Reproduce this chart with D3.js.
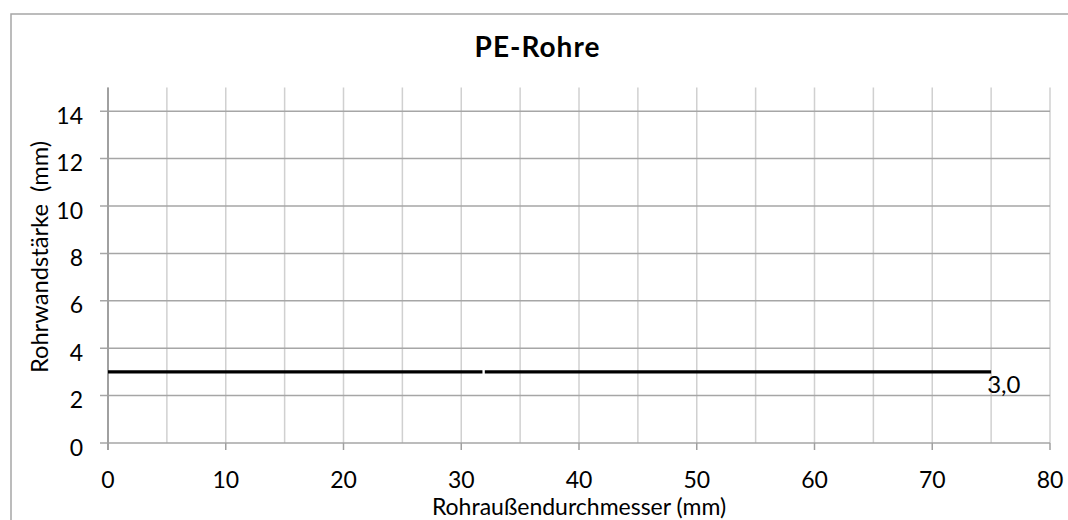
<!DOCTYPE html>
<html>
<head>
<meta charset="utf-8">
<script src="https://cdn.jsdelivr.net/npm/d3@7"></script>
<style>
  body { margin: 0; background: #fff; }
  svg { display: block; font-family: Lato, "Open Sans", sans-serif; }
  text { white-space: pre; }
</style>
</head>
<body>
<div id="chart"></div>
<script>
// values
const title = "PE-Rohre";
const xLabel = "Rohraußendurchmesser (mm)";
const yLabel = "Rohrwandstärke  (mm)";
const xMajorTicks = [0, 10, 20, 30, 40, 50, 60, 70, 80];
const xMinorTicks = [0, 5, 10, 15, 20, 25, 30, 35, 40, 45, 50, 55, 60, 65, 70, 75, 80];
const yTicks = [0, 2, 4, 6, 8, 10, 12, 14];
// the line has a small break near 32 mm
const segmentA = [{ d: 0, s: 3.0 }, { d: 31.8, s: 3.0 }];
const segmentB = [{ d: 32, s: 3.0 }, { d: 75, s: 3.0 }];

const width = 1068, height = 520;
const plotLeft = 108, plotRight = 1050, plotTop = 87.5, plotBottom = 443;

const svg = d3.select("#chart").append("svg")
  .attr("width", width)
  .attr("height", height);

// chart frame (runs off the right and bottom edge)
svg.append("rect")
  .attr("x", 11).attr("y", 14)
  .attr("width", 1100).attr("height", 600)
  .attr("fill", "none")
  .attr("stroke", "#a6a6a6")
  .attr("stroke-width", 1.5);

const x = d3.scaleLinear().domain([0, 80]).range([plotLeft, plotRight]);
const y = d3.scaleLinear().domain([0, 15]).range([plotBottom, plotTop]);

// vertical (minor) grid
svg.append("g")
  .attr("stroke", "#d0d0d0")
  .attr("stroke-width", 1.5)
  .selectAll("line")
  .data(xMinorTicks)
  .join("line")
  .attr("x1", d => x(d)).attr("x2", d => x(d))
  .attr("y1", y(15)).attr("y2", y(0));

// horizontal (major) grid, reaching past the axis as ticks
svg.append("g")
  .attr("stroke", "#a6a6a6")
  .attr("stroke-width", 1.5)
  .selectAll("line")
  .data(yTicks)
  .join("line")
  .attr("x1", plotLeft - 8).attr("x2", plotRight)
  .attr("y1", d => y(d)).attr("y2", d => y(d));

// y axis line
svg.append("line")
  .attr("x1", plotLeft).attr("x2", plotLeft)
  .attr("y1", y(15)).attr("y2", plotBottom + 7)
  .attr("stroke", "#a0a0a0")
  .attr("stroke-width", 2);

// x axis ticks
svg.append("g")
  .attr("stroke", "#a0a0a0")
  .attr("stroke-width", 1.5)
  .selectAll("line")
  .data(xMajorTicks)
  .join("line")
  .attr("x1", d => x(d)).attr("x2", d => x(d))
  .attr("y1", plotBottom).attr("y2", plotBottom + 7);

// tick labels
svg.append("g")
  .attr("font-size", 23)
  .attr("text-anchor", "middle")
  .selectAll("text")
  .data(xMajorTicks)
  .join("text")
  .attr("x", d => x(d))
  .attr("y", 487.5)
  .text(d => d);

svg.append("g")
  .attr("font-size", 23)
  .attr("text-anchor", "end")
  .selectAll("text")
  .data(yTicks)
  .join("text")
  .attr("x", 83)
  .attr("y", d => y(d) + 12.5)
  .text(d => d);

// series
const line = d3.line().x(d => x(d.d)).y(d => y(d.s));
svg.append("g")
  .attr("fill", "none")
  .attr("stroke", "#000")
  .attr("stroke-width", 3.2)
  .selectAll("path")
  .data([segmentA, segmentB])
  .join("path")
  .attr("d", line);

// data label at the last point
const last = segmentB[segmentB.length - 1];
svg.append("text")
  .attr("font-size", 24)
  .attr("x", x(last.d) - 4)
  .attr("y", y(last.s) + 21.5)
  .text(last.s.toFixed(1).replace(".", ","));

// titles
svg.append("text")
  .attr("x", 537.5).attr("y", 57)
  .attr("text-anchor", "middle")
  .attr("font-size", 28)
  .attr("letter-spacing", 1)
  .attr("font-weight", "bold")
  .text(title);

svg.append("text")
  .attr("x", (plotLeft + plotRight) / 2).attr("y", 514.5)
  .attr("text-anchor", "middle")
  .attr("font-size", 23)
  .text(xLabel);

svg.append("text")
  .attr("transform", `translate(48,257) rotate(-90)`)
  .attr("text-anchor", "middle")
  .attr("font-size", 23.7)
  .text(yLabel);
</script>
</body>
</html>
